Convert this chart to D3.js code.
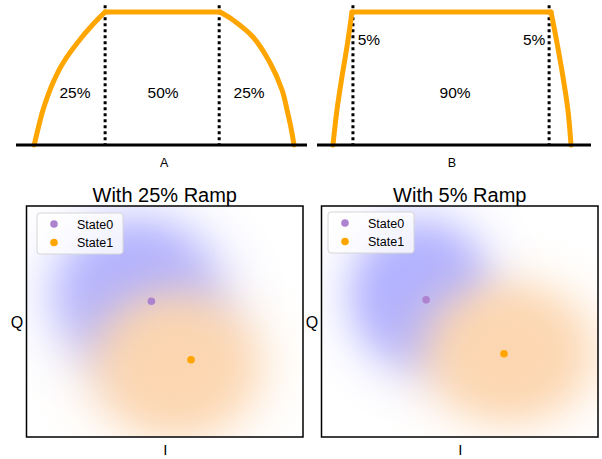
<!DOCTYPE html>
<html>
<head>
<meta charset="utf-8">
<script src="https://cdn.jsdelivr.net/npm/d3@7"></script>
<style>
  body { margin: 0; background: #fff; }
  svg { display: block; }
  text { font-family: "Liberation Sans", Arial, sans-serif; fill: #000; }
</style>
</head>
<body>
<script>
// ---- Pulse envelopes (time in % of pulse, amplitude normalised to 1) ----
const pulseARiseTime = [0, 1.65, 3.4, 6.85, 11.1, 18.4, 24.2, 27.3];
const pulseARiseAmp  = [0, 0.135, 0.263, 0.451, 0.617, 0.812, 0.94, 1];
const pulseAFallTime = [71.5, 76.5, 84.2, 90.8, 95.4, 97.5, 99.0, 100];
const pulseAFallAmp  = [1, 0.94, 0.812, 0.617, 0.414, 0.248, 0.113, 0];
const pulseAEdges = [27.3, 71.2];
const pulseALabels = ["25%", "50%", "25%"];
const pulseALabelTime = [15.7, 49.6, 82.7];
const pulseALabelAmp = [0.353, 0.353, 0.353];

const pulseBRiseTime = [0, 1.7, 3.8, 5.9, 8.0];
const pulseBRiseAmp  = [0, 0.265, 0.515, 0.74, 1];
const pulseBFallTime = [91.6, 94.1, 96.6, 98.7, 100];
const pulseBFallAmp  = [1, 0.77, 0.515, 0.265, 0];
const pulseBEdges = [8.4, 90.8];
const pulseBLabels = ["5%", "90%", "5%"];
const pulseBLabelTime = [15.1, 51.3, 84.5];
const pulseBLabelAmp = [0.75, 0.356, 0.75];

const pulseNames = ["A", "B"];

// ---- IQ readout: one row per panel, one column per state ----
const panelTitles = ["With 25% Ramp", "With 5% Ramp"];
const states = ["State0", "State1"];
// marked state means
const meanI  = [[-0.29, 0.57], [-0.73, 0.96]];
const meanQ  = [[0.44, -0.83], [0.47, -0.70]];
// centre and spread of each shot cloud
const cloudI = [[-0.60, 0.24], [-0.84, 1.05]];
const cloudQ = [[0.58, -0.94], [0.58, -0.68]];
const sigmaI = [[0.89, 0.91], [0.76, 0.91]];
const sigmaQ = [[0.82, 0.80], [0.80, 0.76]];

const W = 602, H = 459;
const svg = d3.select("body").append("svg").attr("width", W).attr("height", H);
const defs = svg.append("defs");

const ORANGE = "#ffa500";
const STATE0_MARK = "#ad82cf";
const cloudColor = ["#b0b0ff", "#fcd6b0"];

// ---------------- pulse envelope panels ----------------
const pulses = [
  { rise: [pulseARiseTime, pulseARiseAmp], fall: [pulseAFallTime, pulseAFallAmp],
    edges: pulseAEdges, labels: pulseALabels, lt: pulseALabelTime, la: pulseALabelAmp,
    dom: [-7, 105], range: [16, 307] },
  { rise: [pulseBRiseTime, pulseBRiseAmp], fall: [pulseBFallTime, pulseBFallAmp],
    edges: pulseBEdges, labels: pulseBLabels, lt: pulseBLabelTime, la: pulseBLabelAmp,
    dom: [-6.7, 108.4], range: [317, 591] }
];

pulses.forEach((p, k) => {
  const x = d3.scaleLinear().domain(p.dom).range(p.range);
  const y = d3.scaleLinear().domain([0, 1]).range([145, 12]);
  const g = svg.append("g");

  // dotted segment boundaries
  g.selectAll("line.edge").data(p.edges).join("line")
    .attr("class", "edge")
    .attr("x1", d => x(d)).attr("x2", d => x(d))
    .attr("y1", y(1.05)).attr("y2", y(0))
    .attr("stroke", "#000").attr("stroke-width", 3)
    .attr("stroke-dasharray", "3,3");

  // envelope: smooth rise, flat top, smooth fall
  const rise = p.rise[0].map((t, i) => [t, p.rise[1][i]]);
  const fall = p.fall[0].map((t, i) => [t, p.fall[1][i]]);
  const smooth = d3.line().x(d => x(d[0])).y(d => y(d[1])).curve(d3.curveCatmullRom.alpha(0.5));
  const straight = d3.line().x(d => x(d[0])).y(d => y(d[1]));
  const env = g.append("g").attr("fill", "none").attr("stroke", ORANGE)
    .attr("stroke-width", 5).attr("stroke-linejoin", "round").attr("stroke-linecap", "round");
  env.append("path").attr("d", smooth(rise));
  env.append("path").attr("d", straight([rise[rise.length - 1], fall[0]]));
  env.append("path").attr("d", smooth(fall));

  // baseline
  g.append("line")
    .attr("x1", x(p.dom[0])).attr("x2", x(p.dom[1]))
    .attr("y1", y(0)).attr("y2", y(0))
    .attr("stroke", "#000").attr("stroke-width", 3);

  // segment labels
  g.selectAll("text.seg").data(p.labels).join("text")
    .attr("class", "seg")
    .attr("x", (d, i) => x(p.lt[i])).attr("y", (d, i) => y(p.la[i]))
    .attr("text-anchor", "middle").attr("font-size", 15.5)
    .text(d => d);

  g.append("text")
    .attr("x", x(50)).attr("y", 167)
    .attr("text-anchor", "middle").attr("font-size", 12.5)
    .text(pulseNames[k]);
});

// ---------------- IQ scatter panels ----------------
const frames = [
  { x0: 26.5, x1: 303, y0: 206, y1: 437, legend: [37, 213], qx: 17 },
  { x0: 321.5, x1: 598, y0: 206, y1: 437, legend: [328, 212], qx: 312 }
];

// opacity profile of a dense cloud of translucent markers
const CORE = 5, REACH = 3.6;
function cloudStops() {
  const s = [];
  for (let i = 0; i <= 48; i++) {
    const t = i / 48, r = t * REACH;
    s.push({ off: t, op: 1 - Math.exp(-CORE * Math.exp(-r * r / 2)) });
  }
  s[s.length - 1].op = 0;
  return s;
}

frames.forEach((f, p) => {
  const half = (f.x1 - f.x0) / 2;
  const cx = (f.x0 + f.x1) / 2;
  const ppu = half / 3;
  const hq = (f.y1 - f.y0) / 2 / ppu;
  const x = d3.scaleLinear().domain([-3, 3]).range([f.x0, f.x1]);
  const y = d3.scaleLinear().domain([-hq, hq]).range([f.y1, f.y0]);

  const clipId = "clip" + p;
  defs.append("clipPath").attr("id", clipId)
    .append("rect").attr("x", f.x0).attr("y", f.y0)
    .attr("width", f.x1 - f.x0).attr("height", f.y1 - f.y0);

  const g = svg.append("g");
  const plot = g.append("g").attr("clip-path", `url(#${clipId})`);

  states.forEach((s, k) => {
    const gid = `cloud${p}${k}`;
    const grad = defs.append("radialGradient").attr("id", gid);
    grad.selectAll("stop").data(cloudStops()).join("stop")
      .attr("offset", d => d.off)
      .attr("stop-color", cloudColor[k])
      .attr("stop-opacity", d => d.op);
    const mx = x(cloudI[p][k]), my = y(cloudQ[p][k]);
    const rx = x(cloudI[p][k] + sigmaI[p][k] * REACH) - mx;
    const ry = my - y(cloudQ[p][k] + sigmaQ[p][k] * REACH);
    plot.append("ellipse")
      .attr("cx", mx).attr("cy", my).attr("rx", rx).attr("ry", ry)
      .attr("fill", `url(#${gid})`);
  });

  // state means
  const meanColor = [STATE0_MARK, ORANGE];
  plot.selectAll("circle.mean").data(states).join("circle")
    .attr("class", "mean")
    .attr("cx", (d, k) => x(meanI[p][k])).attr("cy", (d, k) => y(meanQ[p][k]))
    .attr("r", 3.8).attr("fill", (d, k) => meanColor[k]);

  // frame
  g.append("rect")
    .attr("x", f.x0).attr("y", f.y0)
    .attr("width", f.x1 - f.x0).attr("height", f.y1 - f.y0)
    .attr("fill", "none").attr("stroke", "#000").attr("stroke-width", 1.5);

  // title and axis names
  g.append("text").attr("x", cx).attr("y", 202)
    .attr("text-anchor", "middle").attr("font-size", 20).text(panelTitles[p]);
  g.append("text").attr("x", f.qx).attr("y", 328)
    .attr("text-anchor", "middle").attr("font-size", 16).text("Q");
  g.append("text").attr("x", cx + 0.5).attr("y", 455)
    .attr("text-anchor", "middle").attr("font-size", 15).text("I");

  // legend
  const [lx, ly] = f.legend;
  const lg = g.append("g");
  lg.append("rect").attr("x", lx).attr("y", ly).attr("width", 86).attr("height", 41)
    .attr("rx", 3).attr("fill", "#fff").attr("fill-opacity", 0.8)
    .attr("stroke", "#d6d6d6").attr("stroke-width", 1);
  states.forEach((s, k) => {
    const ry = ly + 11 + k * 18.5;
    lg.append("circle").attr("cx", lx + 17).attr("cy", ry).attr("r", 3.8)
      .attr("fill", meanColor[k]);
    lg.append("text").attr("x", lx + 40).attr("y", ry + 4.5)
      .attr("font-family", "'DejaVu Sans', sans-serif")
      .attr("font-size", 12.5).text(s);
  });
});
</script>
</body>
</html>
